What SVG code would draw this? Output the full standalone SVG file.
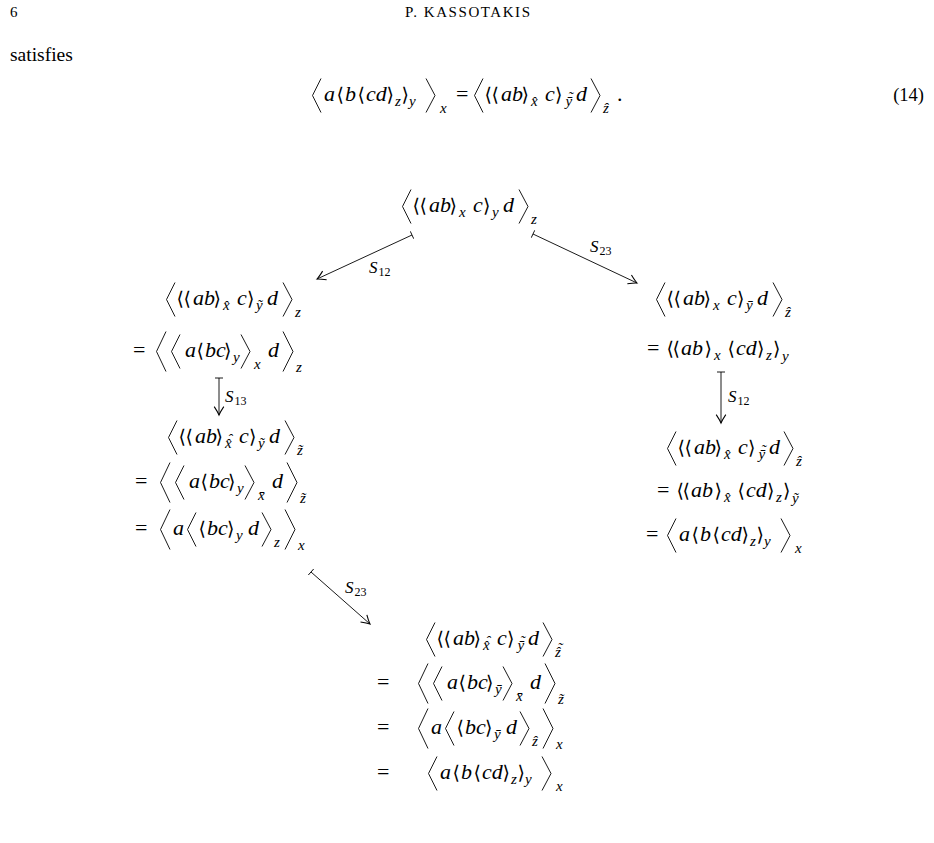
<svg xmlns="http://www.w3.org/2000/svg" width="934" height="843" viewBox="0 0 934 843">
<style>
text{fill:#000}
.m{font-family:'Liberation Serif',serif;font-style:italic;font-size:22px}
.s{font-family:'Liberation Serif',serif;font-style:italic;font-size:15px}
.r{font-family:'Liberation Serif',serif;font-size:22px}
.b{font-family:'DejaVu Serif','DejaVu Sans',serif;font-size:19px}
.bb{fill:none;stroke:#000;stroke-width:0.9}
.lab{font-family:'Liberation Serif',serif;font-style:italic;font-size:17px}
.dg{font-family:'Liberation Serif',serif;font-size:12px}
.cn{fill:none;stroke:#000;stroke-width:0.9;marker-start:url(#tail);marker-end:url(#head)}
.body{font-family:'Liberation Serif',serif;font-size:19.5px}
.hd{font-family:'Liberation Serif',serif;font-size:15px}
</style>
<defs>
<marker id="head" markerUnits="userSpaceOnUse" orient="auto" refX="0" refY="0" markerWidth="12" markerHeight="12" viewBox="-8 -5 9 10" overflow="visible"><path d="M-7,-4 Q-2.5,-1 0,0 Q-2.5,1 -7,4" fill="none" stroke="#000" stroke-width="0.9"/></marker>
<marker id="tail" markerUnits="userSpaceOnUse" orient="auto" refX="0" refY="0" markerWidth="10" markerHeight="10" viewBox="-5 -5 10 10" overflow="visible"><path d="M0,-4 L0,4" fill="none" stroke="#000" stroke-width="0.9"/></marker>
</defs>
<rect width="934" height="843" fill="#fff"/>
<g id="header">
<text x="10" y="17" class="hd">6</text>
<text x="405" y="17" textLength="125" lengthAdjust="spacing" class="hd">P. KASSOTAKIS</text>
<text x="10" y="61" class="body">satisfies</text>
</g>
<g id="eq14">
<polyline class="bb" points="321,78.5 312.5,95.5 321,112.5"/>
<text class="m" x="324" y="101">a</text>
<text class="b" x="336.5" y="101">⟨</text>
<text class="m" x="345" y="101">b</text>
<text class="b" x="357.5" y="101">⟨</text>
<text class="m" x="366" y="101">cd</text>
<text class="b" x="386.5" y="101">⟩</text>
<text class="s" x="395" y="106">z</text>
<text class="b" x="401.5" y="101">⟩</text>
<text class="s" x="409" y="106">y</text>
<polyline class="bb" points="426,78.5 435,95.5 426,112.5"/>
<text class="s" x="440" y="113">x</text>
<text class="r" x="456" y="101">=</text>
<polyline class="bb" points="483,78.5 474.5,95.5 483,112.5"/>
<text class="b" x="484.5" y="101">⟨</text>
<text class="b" x="491.5" y="101">⟨</text>
<text class="m" x="501" y="101">ab</text>
<text class="b" x="521.5" y="101">⟩</text>
<text class="s" x="531" y="106">x&#x302;</text>
<text class="m" x="545" y="101">c</text>
<text class="b" x="555" y="101">⟩</text>
<text class="s" x="565.5" y="106">y&#x304;<tspan x="568" y="101.5">˜</tspan></text>
<text class="m" x="576" y="101">d</text>
<polyline class="bb" points="591,78.5 600,95.5 591,112.5"/>
<text class="s" x="603" y="113">z&#x302;</text>
<text class="r" x="617" y="101">.</text>
<text x="924" y="101" text-anchor="end" class="body" style="font-size:18.5px">(14)</text>
</g>
<g id="n-top">
<polyline class="bb" points="411,189.5 402.5,206.5 411,223.5"/>
<text class="b" x="412.5" y="212">⟨</text>
<text class="b" x="419.5" y="212">⟨</text>
<text class="m" x="429" y="212">ab</text>
<text class="b" x="449.5" y="212">⟩</text>
<text class="s" x="459" y="217">x</text>
<text class="m" x="473" y="212">c</text>
<text class="b" x="483" y="212">⟩</text>
<text class="s" x="492" y="217">y</text>
<text class="m" x="503" y="212">d</text>
<polyline class="bb" points="519,189.5 528,206.5 519,223.5"/>
<text class="s" x="531" y="224">z</text>
</g>
<g id="n-left1">
<polyline class="bb" points="175,282.5 166.5,299.5 175,316.5"/>
<text class="b" x="176.5" y="305">⟨</text>
<text class="b" x="183.5" y="305">⟨</text>
<text class="m" x="193" y="305">ab</text>
<text class="b" x="213.5" y="305">⟩</text>
<text class="s" x="223" y="310">x&#x302;</text>
<text class="m" x="237" y="305">c</text>
<text class="b" x="247" y="305">⟩</text>
<text class="s" x="256" y="310">y&#x303;</text>
<text class="m" x="267" y="305">d</text>
<polyline class="bb" points="283,282.5 292,299.5 283,316.5"/>
<text class="s" x="295" y="317">z</text>
<text class="r" x="133" y="357">=</text>
<polyline class="bb" points="166,331.5 156.5,351.5 166,371.5"/>
<polyline class="bb" points="180,334.5 171.5,351.5 180,368.5"/>
<text class="m" x="185" y="357">a</text>
<text class="b" x="196.5" y="357">⟨</text>
<text class="m" x="205" y="357">bc</text>
<text class="b" x="224" y="357">⟩</text>
<text class="s" x="233" y="362">y</text>
<polyline class="bb" points="241,334.5 250,351.5 241,368.5"/>
<text class="s" x="254" y="369">x</text>
<text class="m" x="268" y="357">d</text>
<polyline class="bb" points="283,331.5 293,351.5 283,371.5"/>
<text class="s" x="296" y="372">z</text>
</g>
<g id="n-left2">
<polyline class="bb" points="177,420.5 168.5,437.5 177,454.5"/>
<text class="b" x="178.5" y="443">⟨</text>
<text class="b" x="185.5" y="443">⟨</text>
<text class="m" x="195" y="443">ab</text>
<text class="b" x="215.5" y="443">⟩</text>
<text class="s" x="225" y="448">x&#x302;<tspan x="227.5" y="443.5">ˆ</tspan></text>
<text class="m" x="239" y="443">c</text>
<text class="b" x="249" y="443">⟩</text>
<text class="s" x="258" y="448">y&#x303;</text>
<text class="m" x="269" y="443">d</text>
<polyline class="bb" points="285,420.5 294,437.5 285,454.5"/>
<text class="s" x="297" y="455">z&#x303;</text>
<text class="r" x="135" y="488">=</text>
<polyline class="bb" points="170,462.5 160.5,482.5 170,502.5"/>
<polyline class="bb" points="184,465.5 175.5,482.5 184,499.5"/>
<text class="m" x="189" y="488">a</text>
<text class="b" x="200.5" y="488">⟨</text>
<text class="m" x="209" y="488">bc</text>
<text class="b" x="228" y="488">⟩</text>
<text class="s" x="237" y="493">y</text>
<polyline class="bb" points="245,465.5 254,482.5 245,499.5"/>
<text class="s" x="258" y="500">x&#x304;</text>
<text class="m" x="272" y="488">d</text>
<polyline class="bb" points="287,462.5 297,482.5 287,502.5"/>
<text class="s" x="300" y="503">z&#x303;</text>
<text class="r" x="135" y="535">=</text>
<polyline class="bb" points="170,509.5 160.5,529.5 170,549.5"/>
<text class="m" x="173" y="535">a</text>
<polyline class="bb" points="196,512.5 187.5,529.5 196,546.5"/>
<text class="b" x="198.5" y="535">⟨</text>
<text class="m" x="207" y="535">bc</text>
<text class="b" x="227" y="535">⟩</text>
<text class="s" x="236" y="540">y</text>
<text class="m" x="248" y="535">d</text>
<polyline class="bb" points="262,512.5 271,529.5 262,546.5"/>
<text class="s" x="274" y="547">z</text>
<polyline class="bb" points="285,509.5 295,529.5 285,549.5"/>
<text class="s" x="298" y="550">x</text>
</g>
<g id="n-right1">
<polyline class="bb" points="665,282.5 656.5,299.5 665,316.5"/>
<text class="b" x="666.5" y="305">⟨</text>
<text class="b" x="673.5" y="305">⟨</text>
<text class="m" x="683" y="305">ab</text>
<text class="b" x="703.5" y="305">⟩</text>
<text class="s" x="713" y="310">x</text>
<text class="m" x="727" y="305">c</text>
<text class="b" x="737" y="305">⟩</text>
<text class="s" x="746" y="310">y&#x304;</text>
<text class="m" x="757" y="305">d</text>
<polyline class="bb" points="773,282.5 782,299.5 773,316.5"/>
<text class="s" x="785" y="317">z&#x302;</text>
<text class="r" x="647" y="355">=</text>
<text class="b" x="666.5" y="355">⟨</text>
<text class="b" x="672.5" y="355">⟨</text>
<text class="m" x="681" y="355">ab</text>
<text class="b" x="704.5" y="355">⟩</text>
<text class="s" x="714" y="360">x</text>
<text class="b" x="727.5" y="355">⟨</text>
<text class="m" x="736" y="355">cd</text>
<text class="b" x="757" y="355">⟩</text>
<text class="s" x="766" y="360">z</text>
<text class="b" x="773" y="355">⟩</text>
<text class="s" x="782" y="361">y</text>
</g>
<g id="n-right2">
<polyline class="bb" points="676,431.5 667.5,448.5 676,465.5"/>
<text class="b" x="677.5" y="454">⟨</text>
<text class="b" x="684.5" y="454">⟨</text>
<text class="m" x="694" y="454">ab</text>
<text class="b" x="714.5" y="454">⟩</text>
<text class="s" x="724" y="459">x&#x302;</text>
<text class="m" x="738" y="454">c</text>
<text class="b" x="748" y="454">⟩</text>
<text class="s" x="758.5" y="459">y&#x304;<tspan x="761" y="454.5">˜</tspan></text>
<text class="m" x="769" y="454">d</text>
<polyline class="bb" points="784,431.5 793,448.5 784,465.5"/>
<text class="s" x="796" y="466">z&#x302;</text>
<text class="r" x="657" y="497">=</text>
<text class="b" x="676.5" y="497">⟨</text>
<text class="b" x="682.5" y="497">⟨</text>
<text class="m" x="691" y="497">ab</text>
<text class="b" x="714.5" y="497">⟩</text>
<text class="s" x="724" y="502">x&#x302;</text>
<text class="b" x="737.5" y="497">⟨</text>
<text class="m" x="746" y="497">cd</text>
<text class="b" x="767" y="497">⟩</text>
<text class="s" x="776" y="502">z</text>
<text class="b" x="783" y="497">⟩</text>
<text class="s" x="792" y="503">y&#x303;</text>
<text class="r" x="646" y="541">=</text>
<polyline class="bb" points="676,518.5 667.5,535.5 676,552.5"/>
<text class="m" x="679" y="541">a</text>
<text class="b" x="691.5" y="541">⟨</text>
<text class="m" x="700" y="541">b</text>
<text class="b" x="712.5" y="541">⟨</text>
<text class="m" x="721" y="541">cd</text>
<text class="b" x="741.5" y="541">⟩</text>
<text class="s" x="750" y="546">z</text>
<text class="b" x="756.5" y="541">⟩</text>
<text class="s" x="764" y="546">y</text>
<polyline class="bb" points="781,518.5 790,535.5 781,552.5"/>
<text class="s" x="795" y="553">x</text>
</g>
<g id="n-bottom">
<polyline class="bb" points="435,622.5 426.5,639.5 435,656.5"/>
<text class="b" x="436.5" y="645">⟨</text>
<text class="b" x="443.5" y="645">⟨</text>
<text class="m" x="453" y="645">ab</text>
<text class="b" x="473.5" y="645">⟩</text>
<text class="s" x="483" y="650">x&#x302;<tspan x="485.5" y="645.5">ˆ</tspan></text>
<text class="m" x="497" y="645">c</text>
<text class="b" x="507" y="645">⟩</text>
<text class="s" x="517.5" y="650">y&#x304;<tspan x="520" y="645.5">˜</tspan></text>
<text class="m" x="528" y="645">d</text>
<polyline class="bb" points="543,622.5 552,639.5 543,656.5"/>
<text class="s" x="555" y="657">z&#x302;<tspan x="557.5" y="652.5">˜</tspan></text>
<text class="r" x="377" y="689">=</text>
<polyline class="bb" points="428,663.5 418.5,683.5 428,703.5"/>
<polyline class="bb" points="442,666.5 433.5,683.5 442,700.5"/>
<text class="m" x="447" y="689">a</text>
<text class="b" x="458.5" y="689">⟨</text>
<text class="m" x="467" y="689">bc</text>
<text class="b" x="486" y="689">⟩</text>
<text class="s" x="495" y="694">y&#x304;</text>
<polyline class="bb" points="503,666.5 512,683.5 503,700.5"/>
<text class="s" x="516" y="701">x&#x304;</text>
<text class="m" x="530" y="689">d</text>
<polyline class="bb" points="545,663.5 555,683.5 545,703.5"/>
<text class="s" x="558" y="704">z&#x303;</text>
<text class="r" x="377" y="734">=</text>
<polyline class="bb" points="428,708.5 418.5,728.5 428,748.5"/>
<text class="m" x="431" y="734">a</text>
<polyline class="bb" points="454,711.5 445.5,728.5 454,745.5"/>
<text class="b" x="456.5" y="734">⟨</text>
<text class="m" x="465" y="734">bc</text>
<text class="b" x="485" y="734">⟩</text>
<text class="s" x="494" y="739">y&#x304;</text>
<text class="m" x="506" y="734">d</text>
<polyline class="bb" points="520,711.5 529,728.5 520,745.5"/>
<text class="s" x="532" y="746">z&#x302;</text>
<polyline class="bb" points="543,708.5 553,728.5 543,748.5"/>
<text class="s" x="556" y="749">x</text>
<text class="r" x="377" y="779">=</text>
<polyline class="bb" points="437,756.5 428.5,773.5 437,790.5"/>
<text class="m" x="440" y="779">a</text>
<text class="b" x="452.5" y="779">⟨</text>
<text class="m" x="461" y="779">b</text>
<text class="b" x="473.5" y="779">⟨</text>
<text class="m" x="482" y="779">cd</text>
<text class="b" x="502.5" y="779">⟩</text>
<text class="s" x="511" y="784">z</text>
<text class="b" x="517.5" y="779">⟩</text>
<text class="s" x="525" y="784">y</text>
<polyline class="bb" points="542,756.5 551,773.5 542,790.5"/>
<text class="s" x="556" y="791">x</text>
</g>
<g id="connectors">
<line class="cn" x1="412" y1="235" x2="317" y2="279"/>
<line class="cn" x1="533" y1="234" x2="637" y2="283"/>
<line class="cn" x1="219" y1="378" x2="219" y2="415"/>
<line class="cn" x1="721" y1="372" x2="721" y2="423"/>
<line class="cn" x1="311" y1="572" x2="370" y2="624"/>
<text class="lab" x="369" y="273">S</text><text class="dg" x="378.5" y="276">12</text>
<text class="lab" x="590" y="252">S</text><text class="dg" x="599.5" y="255">23</text>
<text class="lab" x="225" y="402">S</text><text class="dg" x="234.5" y="405">13</text>
<text class="lab" x="728" y="402">S</text><text class="dg" x="737.5" y="405">12</text>
<text class="lab" x="345" y="593">S</text><text class="dg" x="354.5" y="596">23</text>
</g>
</svg>
